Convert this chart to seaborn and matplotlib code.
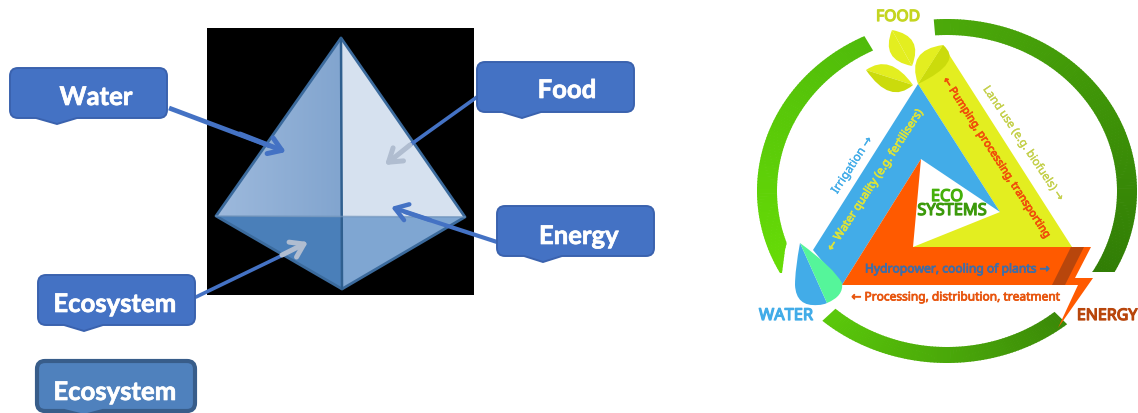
import numpy as np
import matplotlib
matplotlib.use("Agg")
import matplotlib.pyplot as plt
import matplotlib.patheffects as pe
from matplotlib.path import Path
from matplotlib.patches import PathPatch, FancyArrowPatch, Polygon, Rectangle
import seaborn as sns

sns.set_theme(style="white")
plt.rcParams['font.family'] = ['Noto Sans', 'DejaVu Sans']

# ---- left diagram content
box_labels = ["Water", "Food", "Energy", "Ecosystem", "Ecosystem"]
box_rects = [(10, 68, 167, 118), (477, 62, 634, 112), (497, 206, 654, 256), (38, 275, 195, 325), (37, 361, 195, 411)]
box_notch = [(36, 57, 77, 124), (502, 522, 541, 118), (524, 543, 562, 262), (64, 84, 103, 331), (64, 84, 103, 416)]
box_text_xy = [(96, 97), (567, 90), (579, 236), (115, 304), (115, 392)]
box_fill = ["#4472c4", "#4472c4", "#4472c4", "#4472c4", "#4f81bd"]
box_edge = ["#3a62ae", "#3a62ae", "#3a62ae", "#3a62ae", "#385d8a"]
box_lw = [1.4, 1.4, 1.4, 1.4, 3.0]

black_rect = (207, 28, 474, 295)
pyr_top, pyr_left, pyr_right, pyr_bottom, pyr_mid = (341, 38), (216, 216), (465, 217), (342, 289), (341, 217)
face_colors = ["#8fb0d8", "#d6e1ef", "#4a7fb9", "#7fa6d2"]
left_face_gradient = ["#9db9dc", "#82a5cf"]

# ---- right diagram content
ring_center, ring_outer, ring_inner = (947, 191), (190, 172), (170, 156)
ring_spans = [(214, 116), (94, -40), (229, 309)]
ring_colors = [("#68de06", "#50bb0a"), ("#4caa0a", "#2f7a05"), ("#5ac80a", "#3b8a08")]
ring_clips = [[(750, 20), (880, 20), (880, 100), (790, 230), (785, 250), (782, 273), (750, 273)],
              [(930, 0), (1138, 0), (1138, 272), (930, 272)],
              [(800, 290), (1080, 290), (1080, 370), (800, 370)]]

yellow_band = [(943, 45), (1072, 247), (913, 247), (1000, 212), (918, 84)]
blue_band = [(918, 84), (1000, 212), (921, 159), (842, 285), (813, 250)]
orange_bolt = [(921, 159), (913, 247), (1091, 247), (1075, 278), (1093, 278), (1058, 328), (1078, 285), (842, 285)]
dark_stripe = [(1071, 247), (1084, 247), (1065, 285), (1052, 285)]

rot_labels = [
    ("Irrigation →", 852, 165, 57, 8.5, "#42ace8", 0.25),
    ("← Water quality (e.g. fertilisers)", 876, 180, 57, 8.2, "#dbe33c", 0.55),
    ("← Pumping, processing, transporting", 996, 158, -57, 7.8, "#f0500a", 0.55),
    ("Land use (e.g. biofuels) →", 1023, 144, -56, 8.2, "#c4d04a", 0.25),
    ("Hydropower, cooling of plants →", 957, 269, 0, 8.7, "#3f6ea8", 0.55),
    ("← Processing, distribution, treatment", 956, 297, 0, 8.6, "#e8560f", 0.55),
    ("FOOD", 898, 17, 0, 11.3, "#c4d520", 0.9),
    ("WATER", 786, 316, 0, 11.8, "#42ace8", 0.9),
    ("ENERGY", 1107, 316, 0, 11.5, "#b8460c", 0.9),
    ("ECO", 947, 197, 0, 11.8, "#45b00a", 0.9),
    ("SYSTEMS", 952, 211, 0, 11.8, "#3c9a0c", 0.9),
]

fig = plt.figure(figsize=(11.38, 4.13), dpi=100, facecolor="white")
ax = fig.add_axes([0, 0, 1, 1])


def notched_box(rect, notch, r=8):
    x0, y0, x1, y1 = rect
    n0, nt, n1, ny = notch
    v = [(x0 + r, y0), (x1 - r, y0), (x1, y0), (x1, y0 + r), (x1, y1 - r), (x1, y1), (x1 - r, y1),
         (n1, y1), (nt, ny), (n0, y1), (x0 + r, y1), (x0, y1), (x0, y1 - r), (x0, y0 + r), (x0, y0), (x0 + r, y0), (x0 + r, y0)]
    c = [Path.MOVETO, Path.LINETO, Path.CURVE3, Path.CURVE3, Path.LINETO, Path.CURVE3, Path.CURVE3,
         Path.LINETO, Path.LINETO, Path.LINETO, Path.LINETO, Path.CURVE3, Path.CURVE3, Path.LINETO,
         Path.CURVE3, Path.CURVE3, Path.CLOSEPOLY]
    return Path(v, c)


# black panel and pyramid
ax.add_patch(Rectangle((black_rect[0], black_rect[1]), black_rect[2] - black_rect[0], black_rect[3] - black_rect[1], fc="black", ec="none", zorder=1))
faces = [(pyr_top, pyr_left, pyr_mid), (pyr_top, pyr_mid, pyr_right), (pyr_left, pyr_mid, pyr_bottom), (pyr_mid, pyr_right, pyr_bottom)]
for f, col in zip(faces, face_colors):
    ax.add_patch(Polygon(f, closed=True, fc=col, ec=col, lw=0.3, zorder=2))
grad = np.array(sns.blend_palette(left_face_gradient, 64))[None, :, :]
im = ax.imshow(grad, extent=(pyr_left[0], pyr_mid[0], pyr_mid[1], pyr_top[1]), aspect="auto", zorder=2.1)
im.set_clip_path(Polygon(faces[0], closed=True, transform=ax.transData))
ax.add_patch(Polygon([pyr_top, pyr_right, pyr_bottom, pyr_left], closed=True, fc="none", ec="#3b6a9c", lw=2.0, joinstyle="round", zorder=3))
ax.plot([pyr_top[0], pyr_bottom[0]], [pyr_top[1], pyr_bottom[1]], color="#2f5f8f", lw=1.8, zorder=3)
ax.plot([pyr_left[0], pyr_right[0]], [pyr_left[1], pyr_right[1]], color="#6f93bb", lw=1.2, alpha=.7, zorder=3)

# callout arrows
blue, grey = "#4472c4", "#b0bdd0"
head = "->,head_length=9,head_width=6"
ax.plot([169, 270], [108, 146], color=blue, lw=3.4, zorder=4, solid_capstyle="butt")
ax.add_patch(FancyArrowPatch((240, 134), (286, 152), arrowstyle=head, color=blue, lw=3.6, zorder=4, shrinkA=0, shrinkB=0))
ax.plot([477, 410], [97, 145], color=blue, lw=2.6, zorder=4)
ax.add_patch(FancyArrowPatch((410, 145), (385, 165), arrowstyle=head, color=grey, lw=3.6, zorder=4, shrinkA=0, shrinkB=0))
ax.plot([497, 405], [242, 212], color=blue, lw=3.0, zorder=4)
ax.add_patch(FancyArrowPatch((430, 220), (391, 207), arrowstyle=head, color=blue, lw=3.2, zorder=4, shrinkA=0, shrinkB=0))
ax.plot([196, 285], [297, 254], color=blue, lw=2.6, zorder=4)
ax.add_patch(FancyArrowPatch((282, 255), (308, 242), arrowstyle=head, color=grey, lw=3.6, zorder=4, shrinkA=0, shrinkB=0))

# callout boxes
for lab, rect, notch, xy, fc, ec, lw in zip(box_labels, box_rects, box_notch, box_text_xy, box_fill, box_edge, box_lw):
    ax.add_patch(PathPatch(notched_box(rect, notch), fc=fc, ec=ec, lw=lw, zorder=5))
    ax.text(xy[0], xy[1], lab, color="white", fontsize=18.5, fontweight="bold", family=["Lato", "DejaVu Sans"], ha="center", va="center", zorder=6,
            path_effects=[pe.withStroke(linewidth=0.5, foreground="white")])

# ring arcs with gradient
for (t0, t1), (c0, c1), clip in zip(ring_spans, ring_colors, ring_clips):
    n = max(2, int(abs(t1 - t0)))
    pal = sns.blend_palette([c0, c1], n)
    edges = np.radians(np.linspace(t0, t1, n + 1))
    clip_patch = Polygon(clip, closed=True, transform=ax.transData)
    for i in range(n):
        tt = np.linspace(edges[i], edges[i + 1] + 0.004 * np.sign(t1 - t0), 4)
        xo = ring_center[0] + ring_outer[0] * np.cos(tt)
        yo = ring_center[1] - ring_outer[1] * np.sin(tt)
        xi = ring_center[0] + ring_inner[0] * np.cos(tt)
        yi = ring_center[1] - ring_inner[1] * np.sin(tt)
        for art in ax.fill(np.r_[xo, xi[::-1]], np.r_[yo, yi[::-1]], color=pal[i], lw=0, zorder=2):
            art.set_clip_path(clip_patch)

# triangle bands
ax.add_patch(Polygon(yellow_band, closed=True, fc="#e3ee20", ec="none", zorder=3))
ax.add_patch(Polygon(blue_band, closed=True, fc="#42ace8", ec="none", zorder=4))
ax.add_patch(Polygon(orange_bolt, closed=True, fc="#ff5a00", ec="none", zorder=5))
ax.add_patch(Polygon(dark_stripe, closed=True, fc="#b8460c", ec="none", zorder=6))


def leaf(a, b, bulge1, bulge2, light, dark, z=7):
    v = [a, bulge1, b, a]
    ax.add_patch(PathPatch(Path(v, [Path.MOVETO, Path.CURVE3, Path.CURVE3, Path.LINETO]), fc=light, ec="none", zorder=z))
    v = [a, bulge2, b, a]
    ax.add_patch(PathPatch(Path(v, [Path.MOVETO, Path.CURVE3, Path.CURVE3, Path.LINETO]), fc=dark, ec="none", zorder=z))


leaf((892, 30), (912, 66), (880, 60), (924, 36), "#e3ee20", "#e3ee20")
leaf((866, 70), (913, 85), (890, 53), (890, 105), "#e3ee20", "#cbdb0c")
leaf((943, 45), (918, 84), (906, 50), (964, 62), "#e3ee20", "#cbdb0c")

# water drop
tip, bottom, right_pt = (800, 243), (827, 303), (842, 283)
drop_left = [tip, (795, 270), (795, 285), (796, 307), (818, 305), (823, 305), bottom]
ax.add_patch(PathPatch(Path(drop_left + [tip], [Path.MOVETO, Path.CURVE3, Path.CURVE3, Path.CURVE3, Path.CURVE3, Path.CURVE3, Path.CURVE3, Path.LINETO]), fc="#42ace8", ec="none", zorder=7))
drop_right = [tip, (834, 268), right_pt, (844, 296), bottom, tip]
ax.add_patch(PathPatch(Path(drop_right, [Path.MOVETO, Path.CURVE3, Path.CURVE3, Path.CURVE3, Path.CURVE3, Path.LINETO]), fc="#55f59a", ec="none", zorder=7))

# right-hand text
for txt, x, y, rot, size, col, stroke in rot_labels:
    ax.text(x, y, txt, color=col, fontsize=size, rotation=rot, rotation_mode="anchor", ha="center", va="center", zorder=9,
            path_effects=[pe.withStroke(linewidth=stroke, foreground=col)])

ax.set_xlim(0, 1138)
ax.set_ylim(413, 0)
ax.axis("off")
fig.savefig("out.png", dpi=100, facecolor="white")
